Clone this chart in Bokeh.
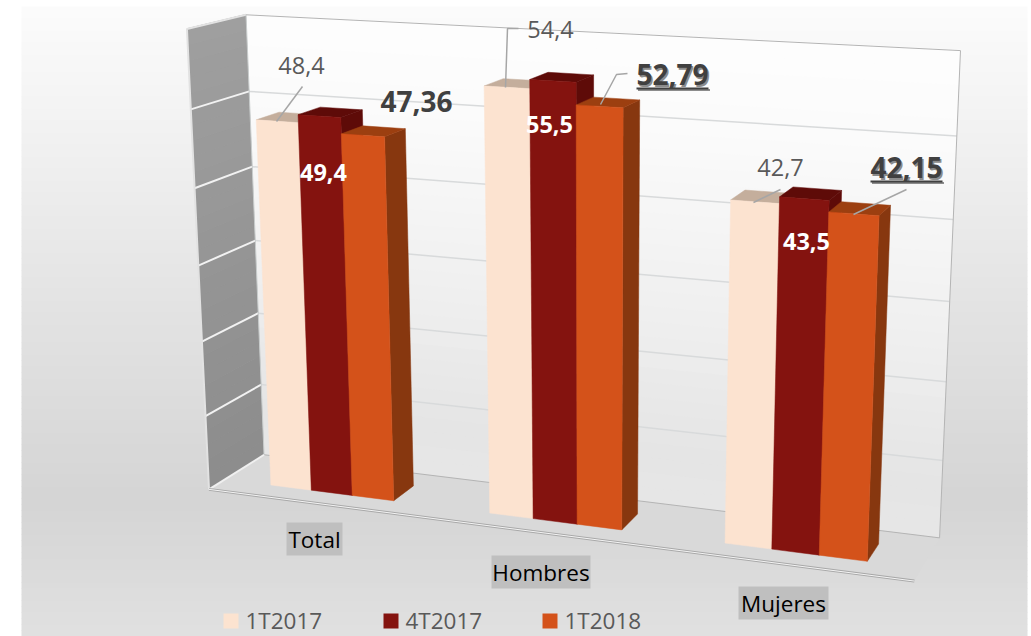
import numpy as np
from bokeh.plotting import figure
from bokeh.models import Range1d
from bokeh.embed import file_html
from bokeh.resources import INLINE
from bokeh.core.properties import value

categories = ["Total", "Hombres", "Mujeres"]
series_names = ["1T2017", "4T2017", "1T2018"]
s_1t2017 = [48.4, 54.4, 42.7]
s_4t2017 = [49.4, 55.5, 43.5]
s_1t2018 = [47.36, 52.79, 42.15]
label_1t2017 = ["48,4", "54,4", "42,7"]
label_4t2017 = ["49,4", "55,5", "43,5"]
label_1t2018 = ["47,36", "52,79", "42,15"]
axis_max = 60
grid_values = [10, 20, 30, 40, 50]

W, H = 1031, 636
OX, OY = 0, 0
p = figure(width=W, height=H, x_range=Range1d(OX, OX + W), y_range=Range1d(OY + H, OY),
           toolbar_location=None, output_backend="svg", min_border=0,
           x_axis_location=None, y_axis_location=None, outline_line_color=None)
p.grid.visible = False
p.background_fill_color = "white"
p.border_fill_color = "white"

# ---- perspective camera calibrated on the corners of the chart box
world = np.array([(0, 0, 0), (0, 0, 1), (0, axis_max, 1), (0, axis_max, 0), (3, 0, 1), (3, axis_max, 1), (3, 0, 0)], float)
screen = np.array([(207, 488), (265, 455), (245, 13), (187, 30), (938, 538), (960, 50), (915, 580)], float)
A, b = [], []
for (X, Y, Z), (sx, sy) in zip(world, screen):
    A.append([X, Y, Z, 1, 0, 0, 0, 0, -sx * X, -sx * Y, -sx * Z]); b.append(sx)
    A.append([0, 0, 0, 0, X, Y, Z, 1, -sy * X, -sy * Y, -sy * Z]); b.append(sy)
sol = np.linalg.lstsq(np.array(A), np.array(b), rcond=None)[0]
P = np.append(sol, 1).reshape(3, 4)


def pr(u, v, w):
    q = P @ np.array([u, v, w, 1.0])
    return q[0] / q[2], q[1] / q[2]


def poly(*pts):
    xy = [pr(*t) for t in pts]
    return [a for a, _ in xy], [c for _, c in xy]


def shade(stops, y):
    ys, gs = zip(*stops)
    g = np.interp(y, ys, gs)
    return "#%02x%02x%02x" % (int(g), int(g), int(g))


# ---- chart-area background gradient
BG = [(6, 252), (120, 243), (300, 228), (500, 213), (636, 225)]
band = np.arange(6, 636, 6)
p.quad(left=21, right=1027, top=band, bottom=band + 6.5, fill_color=[shade(BG, y + 3) for y in band], line_color=None)

# ---- floor
fx, fy = poly((0, 0, 0), (3, 0, 0), (3, 0, 1), (0, 0, 1))
p.patch(fx, fy, fill_color="#d9d9d9", line_color=None)

# ---- back wall
BW = [(10, 255), (150, 250), (300, 240), (450, 229), (540, 233)]
LW = [(10, 160), (250, 150), (490, 140)]
vb = np.arange(0, axis_max, 2.0)
for v0 in vb:
    xs, ys = poly((0, v0, 1), (3, v0, 1), (3, v0 + 2.1, 1), (0, v0 + 2.1, 1))
    p.patch(xs, ys, fill_color=shade(BW, np.mean(ys)), line_color=None)
    xs, ys = poly((0, v0, 0), (0, v0, 1), (0, v0 + 2.1, 1), (0, v0 + 2.1, 0))
    p.patch(xs, ys, fill_color=shade(LW, np.mean(ys)), line_color=None)

for g in grid_values:
    xs, ys = poly((0, g, 1), (3, g, 1))
    p.line(xs, ys, line_color="#d8dadb", line_width=1.5)
    xs, ys = poly((0, g, 0), (0, g, 1))
    p.line(xs, ys, line_color="#f2f2f2", line_width=2)

# ---- box outlines
xs, ys = poly((0, axis_max, 1), (3, axis_max, 1), (3, 0, 1), (0, 0, 1))
p.line(xs, ys, line_color="#b4b4b4", line_width=1)
xs, ys = poly((0, axis_max, 1), (0, axis_max, 0), (0, 0, 0))
p.line(xs, ys, line_color="#e2e2e2", line_width=2)
xs, ys = poly((0, axis_max, 1), (0, 0, 1))
p.line(xs, ys, line_color="#c8cccc", line_width=1)
xs, ys = poly((0, 0, 0), (0, 0, 1))
p.line(xs, ys, line_color="#f0f0f0", line_width=2)
xs, ys = poly((0, 0, 0), (3, 0, 0))
p.line(xs, ys, line_color="#a8a8a8", line_width=3)
p.line(xs, ys, line_color="#f4f4f4", line_width=1)

# ---- bars
front = ["#fce3d0", "#84130f", "#d4521a"]
top = ["#c4ae9c", "#5e0b08", "#9c3f10"]
side = ["#bda28e", "#5e0b08", "#87370f"]
series = [s_1t2017, s_4t2017, s_1t2018]
BAR_START, BAR_W, W0, W1 = 0.218, 0.19, 0.285, 0.69
for i in range(len(categories)):
    for j, vals in enumerate(series):
        v = vals[i]
        u0 = i + BAR_START + j * BAR_W
        u1 = u0 + BAR_W
        xs, ys = poly((u1, 0, W0), (u1, 0, W1), (u1, v, W1), (u1, v, W0))
        p.patch(xs, ys, fill_color=side[j], line_color=side[j], line_width=0.5)
        xs, ys = poly((u0, v, W0), (u1, v, W0), (u1, v, W1), (u0, v, W1))
        p.patch(xs, ys, fill_color=top[j], line_color=top[j], line_width=0.5)
        xs, ys = poly((u0, 0, W0), (u1, 0, W0), (u1, v, W0), (u0, v, W0))
        p.patch(xs, ys, fill_color=front[j], line_color=front[j], line_width=0.5)

# ---- leader lines
LEADER = "#a6a6a6"
for xs, ys in [([302, 276], [86, 121]), ([518, 507, 505], [28, 28, 87]), ([627, 616, 600], [73, 74, 104]),
               ([780, 753], [189, 202]), ([906, 853], [189, 214])]:
    p.line(xs, ys, line_color=LEADER, line_width=1.5)


def txt(x, y, s, size, color, bold=False, align="center", alpha=1.0):
    p.text([x], [y], text=[s], text_font=value("Open Sans"), text_font_size=size, text_color=color,
           text_align=align, text_baseline="middle", text_font_style="bold" if bold else "normal", text_alpha=alpha)


DARK = "#404040"
txt(301, 65, label_1t2017[0], "23.5px", "#595959")
txt(550, 29, label_1t2017[1], "23.5px", "#595959")
txt(780, 167, label_1t2017[2], "23.5px", "#595959")
txt(323, 172, label_4t2017[0], "23.5px", "white", True)
txt(549, 124, label_4t2017[1], "23.5px", "white", True)
txt(806, 241, label_4t2017[2], "23.5px", "white", True)
txt(416, 101, label_1t2018[0], "28px", DARK, True)
for (x, y), s in zip([(672, 74), (906, 167)], label_1t2018[1:]):
    txt(x + 1.5, y + 1.5, s, "28px", "#8c8c8c", True)
    txt(x, y, s, "28px", DARK, True)
    p.line([x + 1.5 - 36, x + 1.5 + 36], [y + 15.5, y + 15.5], line_color="#8c8c8c", line_width=2)
    p.line([x - 36, x + 36], [y + 14, y + 14], line_color=DARK, line_width=2)

# ---- category labels
for (l, r, t), s in zip([(286, 342, 522), (491, 590, 555), (738, 828, 586)], categories):
    p.quad(left=l, right=r, top=t, bottom=t + 33, fill_color="#bfbfbf", line_color=None)
    txt((l + r) / 2, t + 17, s, "22.5px", "black")

# ---- legend
for x0, c, s in zip([223, 383, 542], front, series_names):
    p.quad(left=x0, right=x0 + 15, top=613, bottom=628, fill_color=c, line_color=None)
    txt(x0 + 22, 620, s, "22.5px", "#595959", align="left")

open("out.html", "w").write(file_html(p, INLINE))
